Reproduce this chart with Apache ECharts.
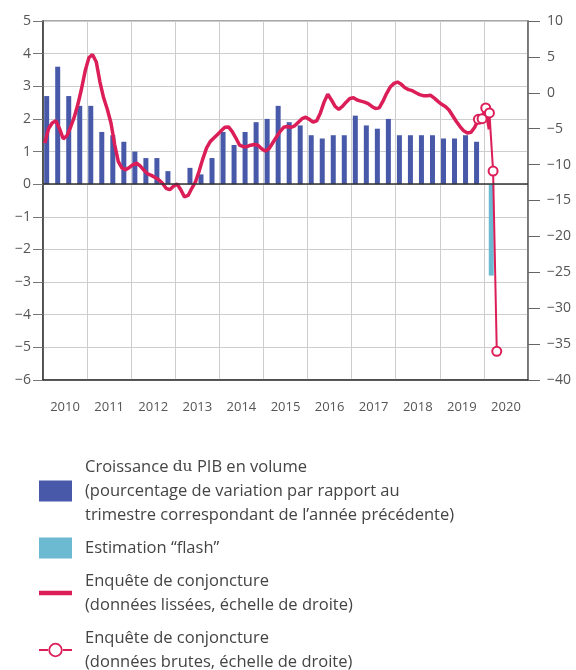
<!DOCTYPE html>
<html><head><meta charset="utf-8">
<script src="https://cdn.jsdelivr.net/npm/echarts/dist/echarts.min.js"></script>
<style>html,body{margin:0;padding:0;background:#fff}#c{width:576px;height:670px}</style>
</head><body><div id="c"></div>
<script>
// ---- data ----
const years = ['2010','2011','2012','2013','2014','2015','2016','2017','2018','2019','2020'];
// GDP growth, y-o-y %, quarterly from 2010Q1 to 2019Q4
const gdpGrowth = [
  2.7, 3.6, 2.7, 2.4,
  2.4, 1.6, 1.5, 1.3,
  1.0, 0.8, 0.8, 0.4,
  0.0, 0.5, 0.3, 0.8,
  1.6, 1.2, 1.6, 1.9,
  2.0, 2.4, 1.9, 1.8,
  1.5, 1.4, 1.5, 1.5,
  2.1, 1.8, 1.7, 2.0,
  1.5, 1.5, 1.5, 1.5,
  1.4, 1.4, 1.5, 1.3
];
const flashMonth = ['2020-03'];
const flashValue = [-2.8];
// Business survey, smoothed, monthly from Jan 2010
const surveySmoothed = [
  -7.0, -5.0, -4.2, -3.9, -5.0, -6.4, -6.0, -4.8, -3.4, -1.6, 0.6, 3.1,
  4.9, 5.3, 4.3, 1.5, -0.7, -2.3, -4.2, -7.2, -9.6, -10.5, -10.7, -10.4,
  -10.0, -9.8, -10.2, -10.8, -11.3, -11.5, -11.8, -12.1, -12.6, -13.3, -13.5, -13.0,
  -12.7, -13.5, -14.5, -14.3, -13.3, -12.4, -10.9, -9.2, -7.7, -6.8, -6.3, -5.8,
  -5.3, -4.8, -4.75, -5.4, -6.3, -7.3, -7.5, -7.5, -7.3, -7.2, -7.3, -7.8,
  -8.1, -7.8, -7.0, -6.2, -5.4, -4.8, -4.7, -4.8, -4.6, -4.1, -3.6, -3.4,
  -3.7, -4.1, -3.9, -2.8, -1.3, -0.2, -1.0, -1.9, -2.3, -1.9, -1.3, -0.8,
  -0.7, -1.0, -1.15, -1.3, -1.5, -1.9, -2.2, -2.1, -1.2, -0.1, 0.8, 1.3,
  1.5, 1.2, 0.7, 0.45, 0.3, 0.0, -0.25, -0.4, -0.4, -0.35, -0.75, -1.2,
  -1.6, -1.9, -2.4, -3.2, -4.0, -4.7, -5.3, -5.6, -5.5, -4.8,
  -3.7, -3.4, -2.2, -5.1
];
// Business survey, raw
const rawMonths = ['2019-11','2019-12','2020-01','2020-02','2020-03','2020-04'];
const surveyRaw = [-3.7, -3.6, -2.1, -2.8, -10.9, -36.0];
// axes
const leftMin = -6, leftMax = 5, leftStep = 1;
const rightMin = -40, rightMax = 10, rightStep = 5;

const legendText = {
  gdp: 'Croissance {s|du} PIB en volume\n(pourcentage de variation par rapport au\ntrimestre correspondant de l\u2019ann\u00e9e pr\u00e9c\u00e9dente)',
  flash: 'Estimation \u201cflash\u201d',
  smooth: 'Enqu\u00eate de conjoncture\n(donn\u00e9es liss\u00e9es, \u00e9chelle de droite)',
  raw: 'Enqu\u00eate de conjoncture\n(donn\u00e9es brutes, \u00e9chelle de droite)'
};

// ---- build ----
const startYear = +years[0];
const monthX = s => { const [y, m] = s.split('-').map(Number); return y + (m - 1 + 0.5) / 12; };
const gdpData = gdpGrowth.map((v, q) => [startYear + (3 * q + 1) / 12, v]);
const flashData = flashValue.map((v, i) => { const [y, m] = flashMonth[i].split('-').map(Number); return [y + (m - 1) / 12, v]; });
const smoothData = surveySmoothed.map((v, m) => [startYear + (m + 0.5) / 12, v]);
const rawData = surveyRaw.map((v, i) => [monthX(rawMonths[i]), v]);

const FONT = '"Open Sans", "Noto Sans", sans-serif';
const RED = '#dc1e58';
const minus = v => String(v).replace('-', '\u2212');

// legend icons (line, and line with open ring)
const lineIcon = 'path://M0,0L33,0L33,4.3L0,4.3Z';
const ringIcon = 'path://M0,9.5L9.8,9.5L9.8,11.5L0,11.5Z' +
  'M23.2,9.5L33,9.5L33,11.5L23.2,11.5Z' +
  'M9.3,10.5A7.2,7.2 0 1,0 23.7,10.5A7.2,7.2 0 1,0 9.3,10.5Z' +
  'M11.1,10.5A5.4,5.4 0 1,1 21.9,10.5A5.4,5.4 0 1,1 11.1,10.5Z';

const chart = echarts.init(document.getElementById('c'), null, {renderer: 'canvas'});
chart.setOption({
  animation: false,
  backgroundColor: '#fff',
  textStyle: {fontFamily: FONT},
  grid: {left: 43, right: 48, top: 21, height: 359, show: true, borderColor: '#8a8a8a', borderWidth: 1.5, outerBoundsMode: 'none', containLabel: false},
  xAxis: [
    {type: 'category', data: years, boundaryGap: true, position: 'bottom',
     axisLine: {show: true, onZero: false, lineStyle: {color: '#333', width: 1.5}},
     axisTick: {show: false},
     axisLabel: {margin: 21, fontSize: 13, color: '#555', fontFamily: FONT},
     splitLine: {show: true, lineStyle: {color: '#cdcdcd', width: 1}}},
    {type: 'value', min: startYear, max: startYear + years.length, position: 'top', show: false}
  ],
  yAxis: [
    {type: 'value', min: leftMin, max: leftMax, interval: leftStep, position: 'left',
     axisLine: {show: true, lineStyle: {color: '#333', width: 1.5}},
     axisTick: {show: true, length: 10, lineStyle: {color: '#777'}},
     axisLabel: {margin: 12, fontSize: 14, color: '#555', fontFamily: FONT, formatter: minus},
     splitLine: {show: true, lineStyle: {color: '#cdcdcd', width: 1}}},
    {type: 'value', min: rightMin, max: rightMax, interval: rightStep, position: 'right',
     axisLine: {show: true, lineStyle: {color: '#666', width: 1.5}},
     axisTick: {show: true, length: 12, lineStyle: {color: '#666'}},
     axisLabel: {margin: 19, fontSize: 14, color: '#555', fontFamily: FONT, formatter: minus},
     splitLine: {show: false}}
  ],
  legend: {
    orient: 'vertical', left: 39, top: 455, height: 260, padding: 0,
    itemWidth: 33, itemHeight: 21, itemGap: 9,
    selectedMode: false,
    formatter: n => legendText[n],
    textStyle: {fontSize: 16.5, lineHeight: 24, color: '#444', fontFamily: FONT, padding: [0, 0, 0, 8],
      rich: {s: {fontFamily: '"DejaVu Serif", serif', fontSize: 15.5, lineHeight: 24, color: '#444'}}},
    data: [
      {name: 'gdp', icon: 'rect'},
      {name: 'flash', icon: 'rect'},
      {name: 'smooth', icon: lineIcon},
      {name: 'raw', icon: ringIcon, itemStyle: {color: RED, borderWidth: 0}}
    ]
  },
  series: [
    {name: 'gdp', type: 'bar', xAxisIndex: 1, yAxisIndex: 0, data: gdpData, barWidth: 5, barGap: '-100%',
     itemStyle: {color: '#4759a8'},
     markLine: {silent: true, symbol: 'none', label: {show: false}, data: [{yAxis: 0}],
       lineStyle: {color: '#333', width: 1.5, type: 'solid'}}},
    {name: 'flash', type: 'bar', xAxisIndex: 1, yAxisIndex: 0, data: flashData, barWidth: 5, barGap: '-100%',
     itemStyle: {color: '#6cbad2'}},
    {name: 'smooth', type: 'line', xAxisIndex: 1, yAxisIndex: 1, data: smoothData, symbol: 'none',
     lineStyle: {color: RED, width: 3.5}, itemStyle: {color: RED}, z: 3},
    {name: 'raw', type: 'line', xAxisIndex: 1, yAxisIndex: 1, data: rawData, symbol: 'emptyCircle', symbolSize: 9,
     lineStyle: {color: RED, width: 2}, itemStyle: {color: RED, borderWidth: 1.5}, z: 4}
  ]
});
</script>
</body></html>
